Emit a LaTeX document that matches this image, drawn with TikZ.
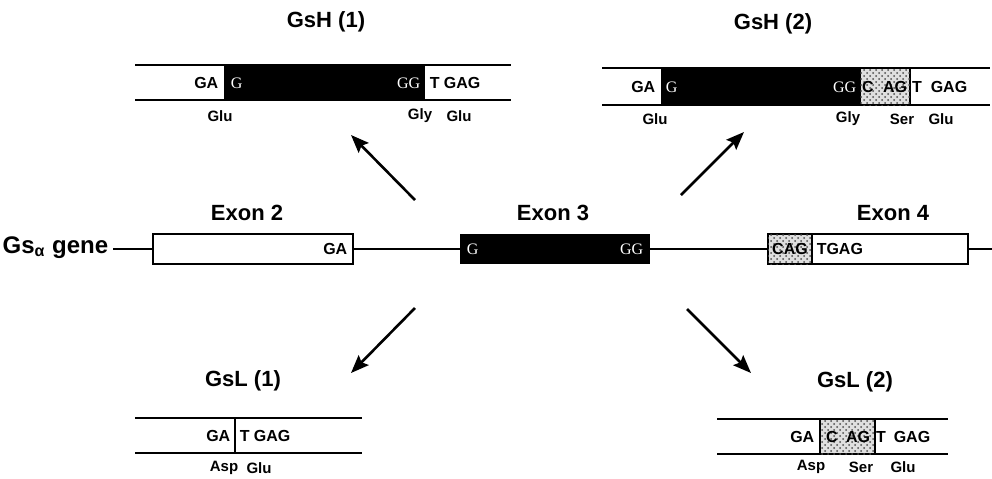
\documentclass[tikz,border=0pt]{standalone}
\usepackage{fontspec}
\setmainfont{Liberation Sans}
\newfontfamily\serfont{Liberation Serif}
\usetikzlibrary{arrows.meta,patterns}
\begin{document}
\begin{tikzpicture}[x=0.5pt,y=-0.5pt,line width=0.75pt,
  ttl/.style={font=\fontsize{11}{13}\selectfont\bfseries,inner sep=0pt},
  sq/.style={font=\fontsize{8}{9}\selectfont\bfseries,inner sep=1pt},
  aa/.style={font=\fontsize{7.5}{8}\selectfont\bfseries,inner sep=1pt},
  wt/.style={font=\fontsize{8}{9}\selectfont\serfont,text=white,inner sep=1pt},
  stip/.style={fill=gray!25,postaction={pattern=crosshatch dots,pattern color=black!70}},
  ar/.style={line width=1.3pt,-{Stealth[length=9pt,width=7pt,inset=1.5pt]}}]
\useasboundingbox (0,0) rectangle (992,478);

\node[ttl] (h1) at (326,22) {GsH (1)};
\draw (135,65) -- (511,65) (135,100) -- (511,100);
\fill (224,65) rectangle (425,100);
\node[sq,anchor=east] (h1a) at (221,83) {GA};
\node[wt,anchor=west] (h1b) at (228,83) {G};
\node[wt,anchor=east] (h1c) at (423,83) {GG};
\node[sq,anchor=west] (h1d) at (427,83) {T GAG};
\node[aa] (h1e) at (220,116) {Glu};
\node[aa] (h1f) at (420,116) {Gly};
\node[aa] (h1g) at (459,116) {Glu};

\node[ttl] (h2) at (773,24) {GsH (2)};
\draw (602,68) -- (990,68) (602,105) -- (990,105);
\fill (661,68) rectangle (860,105);
\draw[stip] (860,68) rectangle (910,105);
\node[sq,anchor=east] (h2a) at (658,87) {GA};
\node[wt,anchor=west] (h2b) at (663,87) {G};
\node[wt,anchor=east] (h2c) at (859,87) {GG};
\node[sq] (h2d) at (868,87) {C};
\node[sq] (h2e) at (895,87) {AG};
\node[sq] (h2f) at (917,87) {T};
\node[sq,anchor=west] (h2g) at (928,87) {GAG};
\node[aa] (h2h) at (655,119) {Glu};
\node[aa] (h2i) at (848,119) {Gly};
\node[aa] (h2j) at (902,119) {Ser};
\node[aa] (h2k) at (941,119) {Glu};

\node[font=\fontsize{12}{14}\selectfont\bfseries,inner sep=0pt,anchor=base east] (gene) at (109,253) {Gs\textsubscript{α} gene};
\draw (113,249) -- (992,249);
\draw[fill=white] (153,234) rectangle (353,264);
\fill (460,234) rectangle (650,264);
\draw[fill=white] (768,234) rectangle (968,264);
\draw[stip] (768,234) rectangle (812,264);
\node[ttl] (e2) at (247,213) {Exon 2};
\node[ttl] (e3) at (553,213) {Exon 3};
\node[ttl] (e4) at (893,213) {Exon 4};
\node[sq,anchor=east] (e2a) at (350,249) {GA};
\node[wt,anchor=west] (e3a) at (464,249) {G};
\node[wt,anchor=east] (e3b) at (646,249) {GG};
\node[sq] (e4a) at (790,249) {CAG};
\node[sq,anchor=west] (e4b) at (814,249) {TGAG};

\coordinate (t1) at (415,200);
\coordinate (p1) at (351,135);
\coordinate (t2) at (681,195);
\coordinate (p2) at (744,132);
\coordinate (t3) at (415,308);
\coordinate (p3) at (351,373);
\coordinate (t4) at (687,309);
\coordinate (p4) at (751,373);
\draw[ar] (t1) -- (p1);
\draw[ar] (t2) -- (p2);
\draw[ar] (t3) -- (p3);
\draw[ar] (t4) -- (p4);

\node[ttl] (l1) at (243,381) {GsL (1)};
\draw (135,418) -- (362,418) (135,453) -- (362,453);
\draw (235,418) -- (235,453);
\node[sq,anchor=east] (l1a) at (233,436) {GA};
\node[sq,anchor=west] (l1b) at (237,436) {T GAG};
\node[aa] (l1c) at (224,468) {Asp};
\node[aa] (l1d) at (259,468) {Glu};

\node[ttl] (l2) at (855,382) {GsL (2)};
\draw (717,419) -- (948,419) (717,454) -- (948,454);
\draw[stip] (820,419) rectangle (875,454);
\node[sq,anchor=east] (l2a) at (817,437) {GA};
\node[sq] (l2b) at (832,437) {C};
\node[sq] (l2c) at (858,437) {AG};
\node[sq] (l2d) at (881,437) {T};
\node[sq,anchor=west] (l2e) at (891,437) {GAG};
\node[aa] (l2f) at (811,467) {Asp};
\node[aa] (l2g) at (861,467) {Ser};
\node[aa] (l2h) at (903,467) {Glu};
\end{tikzpicture}
\end{document}
